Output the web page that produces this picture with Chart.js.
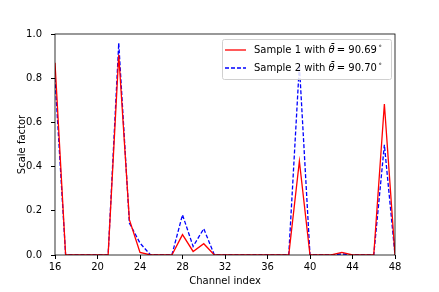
<!DOCTYPE html>
<html>
<head>
<meta charset="utf-8">
<script src="https://cdn.jsdelivr.net/npm/chart.js@4"></script>
<style>
  html, body { margin: 0; padding: 0; background: #fff; }
  #wrap { width: 439px; height: 292px; }
</style>
</head>
<body>
<div id="wrap"><canvas id="myChart" width="439" height="292"></canvas></div>
<script>
const channels = [16, 17, 18, 19, 20, 21, 22, 23, 24, 25, 26, 27, 28, 29, 30, 31, 32,
                  33, 34, 35, 36, 37, 38, 39, 40, 41, 42, 43, 44, 45, 46, 47, 48];
const sample1 = [0.87, 0, 0, 0, 0, 0, 0.906, 0.16, 0.012, 0, 0, 0, 0.092, 0.016, 0.051, 0, 0,
                 0, 0, 0, 0, 0, 0, 0.424, 0, 0, 0, 0.012, 0, 0, 0, 0.683, 0];
const sample2 = [0.80, 0, 0, 0, 0, 0, 0.959, 0.145, 0.054, 0, 0, 0, 0.182, 0.039, 0.119, 0, 0,
                 0, 0, 0, 0, 0, 0, 0.86, 0, 0, 0, 0.005, 0, 0, 0, 0.499, 0];
const labels = ['Sample 1', 'Sample 2'];
const thetas = ['90.69', '90.70'];

const FONT = 'DejaVu Sans';
Chart.defaults.font.family = FONT;
Chart.defaults.font.size = 10;
Chart.defaults.color = '#000';

const toPoints = vals => vals.map((v, i) => ({x: channels[i], y: v}));

// frame on all four sides, like matplotlib spines
const frame = {
    id: 'frame',
    afterDraw(chart) {
        const {ctx, chartArea: a} = chart;
        ctx.save();
        ctx.strokeStyle = '#000';
        ctx.lineWidth = 0.8;
        ctx.strokeRect(a.left, a.top, a.right - a.left, a.bottom - a.top);
        ctx.restore();
    }
};

// legend box with line samples and the theta text
const legendBox = {
    id: 'legendBox',
    afterDraw(chart) {
        const {ctx} = chart;
        const x0 = 222, y0 = 39, w = 169, h = 40;
        ctx.save();
        ctx.fillStyle = 'rgba(255,255,255,0.85)';
        ctx.strokeStyle = '#d0d0d0';
        ctx.lineWidth = 1;
        ctx.beginPath();
        ctx.roundRect(x0 + 0.5, y0 + 0.5, w, h, 2);
        ctx.fill();
        ctx.stroke();
        chart.data.datasets.forEach((ds, i) => {
            const y = y0 + 11 + i * 18;
            ctx.strokeStyle = ds.borderColor;
            ctx.lineWidth = ds.borderWidth;
            ctx.setLineDash(ds.borderDash || []);
            ctx.beginPath();
            ctx.moveTo(x0 + 3, y);
            ctx.lineTo(x0 + 24, y);
            ctx.stroke();
            ctx.setLineDash([]);
            ctx.fillStyle = '#000';
            ctx.textBaseline = 'middle';
            let tx = x0 + 32;
            ctx.font = `10px "${FONT}"`;
            const part1 = labels[i] + ' with ';
            ctx.fillText(part1, tx, y);
            tx += ctx.measureText(part1).width;
            ctx.font = `italic 10px "${FONT}"`;
            ctx.fillText('\u03B8\u0304', tx, y);
            tx += ctx.measureText('\u03B8').width + 2;
            ctx.font = `10px "${FONT}"`;
            const part2 = '= ' + thetas[i];
            ctx.fillText(part2, tx, y);
            tx += ctx.measureText(part2).width + 1;
            ctx.font = `7px "${FONT}"`;
            ctx.fillText('\u2218', tx, y - 4);
        });
        ctx.restore();
    }
};

const ctx = document.getElementById('myChart').getContext('2d');
const myChart = new Chart(ctx, {
    type: 'line',
    data: {
        datasets: [
            {
                label: labels[0],
                data: toPoints(sample1),
                borderColor: '#ff0000',
                borderWidth: 1.3,
                pointRadius: 0,
                tension: 0,
                fill: false
            },
            {
                label: labels[1],
                data: toPoints(sample2),
                borderColor: '#0000ff',
                borderWidth: 1.3,
                borderDash: [4, 2],
                pointRadius: 0,
                tension: 0,
                fill: false
            }
        ]
    },
    options: {
        responsive: false,
        animation: false,
        layout: { padding: { left: 0, right: 44, top: 34, bottom: 0 } },
        scales: {
            x: {
                type: 'linear',
                min: 16,
                max: 48,
                afterFit: s => { s.height = 37; },
                ticks: { stepSize: 4, padding: 2, maxRotation: 0, color: '#000' },
                grid: { drawOnChartArea: false, tickLength: 4, color: '#000' },
                border: { display: false },
                title: { display: true, text: 'Channel index', padding: { top: 1, bottom: 5 }, color: '#000' }
            },
            y: {
                min: 0,
                max: 1,
                afterFit: s => { s.width = 55; },
                ticks: { stepSize: 0.2, padding: 9, color: '#000', callback: v => v.toFixed(1) },
                grid: { drawOnChartArea: false, tickLength: 4, color: '#000' },
                border: { display: false },
                title: { display: true, text: 'Scale factor', padding: { top: 16, bottom: 0 }, color: '#000' }
            }
        },
        plugins: {
            legend: { display: false },
            tooltip: { enabled: false }
        }
    },
    plugins: [frame, legendBox]
});
</script>
</body>
</html>
